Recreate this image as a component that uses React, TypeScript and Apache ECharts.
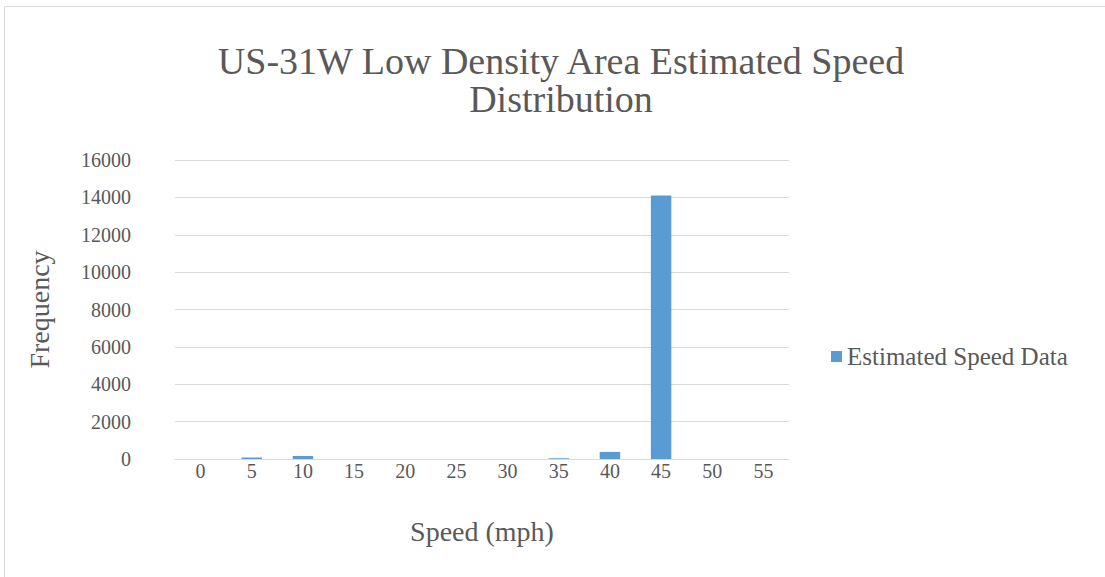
import React, { useEffect, useRef } from "react";
import * as echarts from "echarts";

const categories = ["0", "5", "10", "15", "20", "25", "30", "35", "40", "45", "50", "55"];
const frequency = [0, 80, 160, 0, 0, 0, 0, 40, 380, 14100, 0, 0];
const seriesName = "Estimated Speed Data";
const titleText = "US-31W Low Density Area Estimated Speed\nDistribution";
const xAxisName = "Speed (mph)";
const yAxisName = "Frequency";

const FONT = "'Liberation Serif', 'DejaVu Serif', serif";
const TEXT = "#595959";

export default function App() {
  const ref = useRef<HTMLDivElement>(null);
  useEffect(() => {
    if (!ref.current) return;
    const chart = echarts.init(ref.current, undefined, { renderer: "svg" });
    chart.setOption({
      animation: false,
      backgroundColor: "#ffffff",
      textStyle: { fontFamily: FONT, color: TEXT },
      title: {
        text: titleText,
        left: 556,
        textAlign: "center",
        top: 37,
        textStyle: { fontFamily: FONT, fontSize: 38, fontWeight: "normal", color: TEXT, lineHeight: 38 },
      },
      legend: {
        orient: "vertical",
        left: 826,
        top: 339,
        itemWidth: 11,
        itemHeight: 11,
        itemGap: 6,
        icon: "rect",
        textStyle: { fontFamily: FONT, fontSize: 25, color: TEXT },
        data: [seriesName],
      },
      graphic: [
        {
          type: "rect",
          shape: { x: 4.5, y: 6.5, width: 1200, height: 700 },
          style: { fill: "none", stroke: "#D9D9D9", lineWidth: 1 },
          silent: true,
        },
      ],
      grid: { left: 175, right: 316, top: 160, bottom: 118, containLabel: false },
      xAxis: {
        type: "category",
        data: categories,
        name: xAxisName,
        nameLocation: "middle",
        nameGap: 58,
        nameTextStyle: { fontFamily: FONT, fontSize: 28, color: TEXT },
        axisLine: { show: true, lineStyle: { color: "#D9D9D9", width: 1 } },
        axisTick: { show: false },
        axisLabel: { fontFamily: FONT, fontSize: 20, color: TEXT, margin: 2 },
      },
      yAxis: {
        type: "value",
        min: 0,
        max: 16000,
        interval: 2000,
        name: yAxisName,
        nameLocation: "middle",
        nameGap: 122,
        nameRotate: 90,
        nameTextStyle: { fontFamily: FONT, fontSize: 28, color: TEXT },
        axisLine: { show: false },
        axisTick: { show: false },
        axisLabel: {
          fontFamily: FONT,
          fontSize: 20,
          color: TEXT,
          margin: 44,
          formatter: (v: number) => String(v),
        },
        splitLine: { lineStyle: { color: "#D9D9D9", width: 1 } },
      },
      series: [
        {
          name: seriesName,
          type: "bar",
          data: frequency,
          barCategoryGap: "60%",
          itemStyle: { color: "#5B9BD5" },
        },
      ],
    });
    return () => chart.dispose();
  }, []);
  return (
    <div style={{ position: "fixed", left: 0, top: 0, width: 1105, height: 577, background: "#fff" }}>
      <div ref={ref} style={{ width: 1105, height: 577 }} />
    </div>
  );
}
